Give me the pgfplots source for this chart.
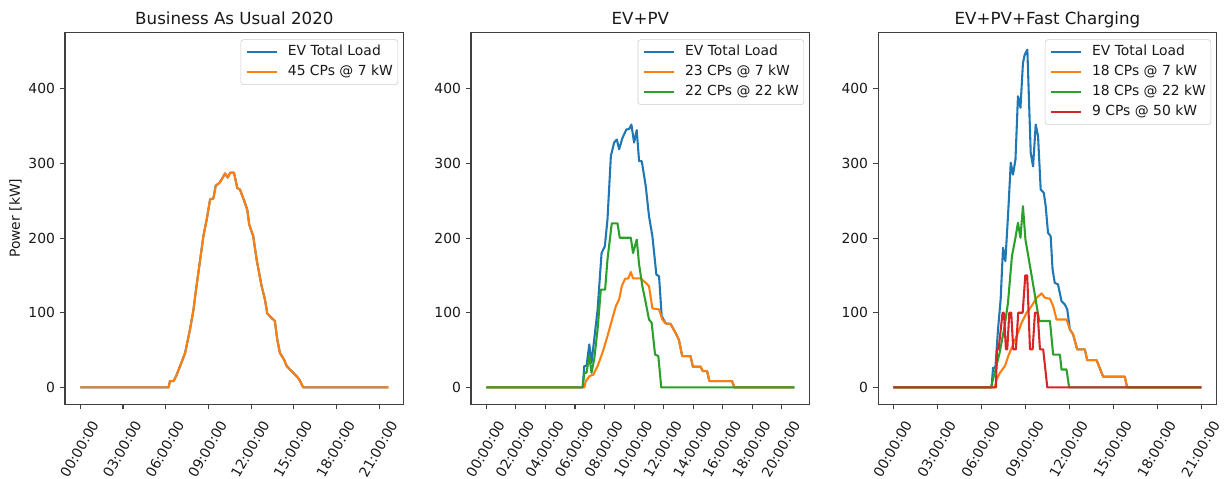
\documentclass[border=0pt]{standalone}
\usepackage{fontspec}
\setmainfont{DejaVu Sans}
\usepackage{pgfplots}
\pgfplotsset{compat=1.18}
\definecolor{mblue}{HTML}{1F77B4}
\definecolor{morange}{HTML}{FF7F0E}
\definecolor{mgreen}{HTML}{2CA02C}
\definecolor{mred}{HTML}{D62728}
\pgfplotsset{
  panel/.style={
    scale only axis, width=243.9bp, height=267.8bp,
    anchor=south west,
    ymin=-22.6, ymax=475.6,
    ytick={0,100,200,300,400},
    xtick pos=bottom, ytick pos=left,
    /pgf/number format/assume math mode=true,
    tick align=outside, major tick length=3.5bp,
    tick style={black!75, line width=0.8bp},
    axis line style={black!75, line width=0.8bp},
    tick label style={font=\fontsize{10.04}{12}\selectfont, text=black!90},
    yticklabel style={inner sep=0pt, xshift=-3.5bp},
    xticklabel style={inner sep=0pt, anchor=north east, xshift=7.2bp, yshift=-7.1bp, rotate=60},
    title style={font=\fontsize{12.05}{14}\selectfont, at={(0.5,1)}, anchor=base, yshift=0bp, text=black!90},
    legend style={at={(0.9834,0.981)}, anchor=north east, draw=black!20, rounded corners=2bp,
      fill=white, font=\fontsize{10.04}{12}\selectfont, text=black!90, inner xsep=3.6bp, inner ysep=1.8bp,
      nodes={inner xsep=0pt, inner ysep=2.35bp, text height=7.5bp, text depth=2.2bp}},
    legend cell align=left,
    legend image code/.code={\draw[##1] (0bp,0bp) -- (21.6bp,0bp); \path (28.8bp,0bp);},
    every axis plot/.append style={line width=1.5bp, line join=round},
  }
}
\begin{document}
\begin{tikzpicture}
\useasboundingbox (0,0) rectangle (883.44bp,344.88bp);
% ---------------- Panel 1 ----------------
\begin{axis}[panel, at={(46.8bp,53.8bp)},
  xmin=-1.08, xmax=22.73,
  xtick={0,3,6,9,12,15,18,21},
  xticklabels={00:00:00,03:00:00,06:00:00,09:00:00,12:00:00,15:00:00,18:00:00,21:00:00},
  title={Business As Usual 2020},
  ylabel={Power [kW]},
  ylabel style={font=\fontsize{10.04}{12}\selectfont, text=black!90, at={(axis description cs:-0.133,0.5)}, anchor=base},
]
\addplot[mblue] coordinates {(0,0) (6.2,0) (6.3,8.5) (6.55,8.5) (6.73,15) (7.06,31) (7.36,46) (7.71,78) (7.95,104) (8.13,131) (8.42,171) (8.65,203) (8.88,225) (9.12,252) (9.35,253) (9.51,270) (9.77,274) (9.93,278.6) (10.17,286.6) (10.36,281) (10.52,287.5) (10.8,287.5) (11.03,267) (11.22,265) (11.57,247) (11.73,238) (11.87,218) (12.15,202.6) (12.39,171) (12.74,135.7) (12.97,118) (13.14,99) (13.44,93) (13.67,89) (13.84,64) (14.03,46) (14.31,37.5) (14.5,28.6) (14.73,24) (14.96,19.6) (15.2,15) (15.38,10.7) (15.66,0) (21.65,0)};
\addlegendentry{EV Total Load}
\addplot[morange] coordinates {(0,0) (6.2,0) (6.3,8.5) (6.55,8.5) (6.73,15) (7.06,31) (7.36,46) (7.71,78) (7.95,104) (8.13,131) (8.42,171) (8.65,203) (8.88,225) (9.12,252) (9.35,253) (9.51,270) (9.77,274) (9.93,278.6) (10.17,286.6) (10.36,281) (10.52,287.5) (10.8,287.5) (11.03,267) (11.22,265) (11.57,247) (11.73,238) (11.87,218) (12.15,202.6) (12.39,171) (12.74,135.7) (12.97,118) (13.14,99) (13.44,93) (13.67,89) (13.84,64) (14.03,46) (14.31,37.5) (14.5,28.6) (14.73,24) (14.96,19.6) (15.2,15) (15.38,10.7) (15.66,0) (21.65,0)};
\addlegendentry{45 CPs @ 7 kW}
\end{axis}
% ---------------- Panel 2 ----------------
\begin{axis}[panel, at={(339.1bp,53.8bp)},
  xmin=-1.04, xmax=21.89,
  xtick={0,2,4,6,8,10,12,14,16,18,20},
  xticklabels={00:00:00,02:00:00,04:00:00,06:00:00,08:00:00,10:00:00,12:00:00,14:00:00,16:00:00,18:00:00,20:00:00},
  yticklabel={},
  title={EV+PV},
]
\addplot[mblue] coordinates {(0,0) (6.52,0) (6.63,28.6) (6.78,28.6) (6.97,57.6) (7.12,33) (7.30,64) (7.53,104) (7.80,180) (8.02,189) (8.2,225) (8.43,310) (8.65,328) (8.83,332) (8.99,319) (9.21,334) (9.48,345.5) (9.66,346) (9.82,352) (10.0,328) (10.18,344.6) (10.34,303) (10.52,303) (10.79,269.6) (11.01,229.5) (11.24,202.6) (11.51,151) (11.69,149) (11.87,95.5) (12.14,85.7) (12.47,85) (12.81,73) (13.03,64) (13.26,42) (13.82,42) (13.98,27.7) (14.5,27.7) (14.65,21.9) (14.94,21.9) (15.1,8.5) (16.63,8.5) (16.79,0) (20.85,0)};
\addlegendentry{EV Total Load}
\addplot[morange] coordinates {(0,0) (6.63,0) (6.74,8.5) (6.97,15) (7.24,17) (7.53,28.6) (7.86,46.4) (8.20,68.7) (8.54,93) (8.77,109) (8.99,118) (9.17,135.7) (9.39,145.5) (9.61,146) (9.78,154.5) (9.93,146) (10.45,146) (10.79,140) (11.01,135.7) (11.24,105.8) (11.69,104.5) (11.91,91) (12.14,85.7) (12.47,85) (12.81,73) (13.03,64) (13.26,42) (13.82,42) (13.98,27.7) (14.5,27.7) (14.65,21.9) (14.94,21.9) (15.1,8.5) (16.63,8.5) (16.79,0) (20.85,0)};
\addlegendentry{23 CPs @ 7 kW}
\addplot[mgreen] coordinates {(0,0) (6.52,0) (6.63,19.6) (6.78,19.6) (6.97,42) (7.12,19.6) (7.30,37.5) (7.53,77.7) (7.75,131) (8.04,131) (8.2,171.4) (8.49,219.6) (8.88,219.6) (9.03,200.5) (9.78,200.5) (9.93,180) (10.18,198) (10.34,164.7) (10.56,135.7) (10.79,113.4) (11.01,91) (11.19,86.6) (11.42,44) (11.64,42) (11.84,0) (20.85,0)};
\addlegendentry{22 CPs @ 22 kW}
\end{axis}
% ---------------- Panel 3 ----------------
\begin{axis}[panel, at={(632.2bp,53.8bp)},
  xmin=-1.05, xmax=22.05,
  xtick={0,3,6,9,12,15,18,21},
  xticklabels={00:00:00,03:00:00,06:00:00,09:00:00,12:00:00,15:00:00,18:00:00,21:00:00},
  yticklabel={},
  title={EV+PV+Fast Charging},
]
\addplot[mblue] coordinates {(0,0) (6.69,0) (6.79,26.3) (6.95,26.3) (7.13,77.7) (7.31,118) (7.47,187) (7.63,169) (7.81,229.5) (8.0,301) (8.15,285) (8.32,305) (8.49,390) (8.66,374.6) (8.83,434.4) (8.95,445.5) (9.13,452.4) (9.36,314) (9.52,296) (9.70,352) (9.86,336.5) (10.04,265) (10.25,260.7) (10.38,242.8) (10.54,207) (10.72,202.6) (10.85,158) (11.0,140) (11.22,138) (11.46,115.6) (11.69,111) (11.85,104.5) (12.03,77.7) (12.25,71) (12.53,51) (13.05,51) (13.21,36.6) (13.85,36.6) (14.3,14.3) (15.78,14.3) (15.93,0) (21,0)};
\addlegendentry{EV Total Load}
\addplot[morange] coordinates {(0,0) (6.9,0) (7.04,10.7) (7.26,19.6) (7.6,28.6) (7.83,42) (8.06,53) (8.4,68.7) (8.74,86.6) (9.08,100) (9.42,109) (9.76,120) (10.1,125.9) (10.33,120) (10.67,118.8) (10.89,109) (11.12,91) (11.8,91) (12.03,77.7) (12.25,71) (12.53,51) (13.05,51) (13.21,36.6) (13.85,36.6) (14.3,14.3) (15.78,14.3) (15.93,0) (21,0)};
\addlegendentry{18 CPs @ 7 kW}
\addplot[mgreen] coordinates {(0,0) (6.65,0) (6.9,19.6) (7.24,46.4) (7.58,82) (7.81,113.4) (8.08,176) (8.32,200.5) (8.49,220.5) (8.66,200.5) (8.83,242.8) (9.0,198) (9.35,158) (9.94,89) (10.67,89) (10.89,44) (11.35,44) (11.46,24) (11.8,24) (11.98,0) (21,0)};
\addlegendentry{18 CPs @ 22 kW}
\addplot[mred] coordinates {(0,0) (6.99,0) (7.06,51) (7.17,51) (7.44,100) (7.53,100) (7.67,51) (7.76,51) (7.9,100) (8.03,100) (8.17,51) (8.35,51) (8.51,100) (8.81,100) (8.99,150) (9.12,150) (9.31,51) (9.49,51) (9.65,100) (9.83,100) (9.99,51) (10.21,51) (10.49,0) (21,0)};
\addlegendentry{9 CPs @ 50 kW}
\end{axis}
\end{tikzpicture}
\end{document}
